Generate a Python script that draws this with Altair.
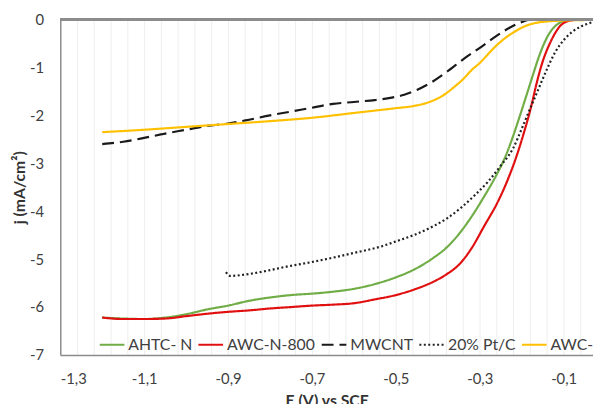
import altair as alt
import pandas as pd

# ---- data ----
series_names = ["AHTC- N", "AWC-N-800", "MWCNT", "20% Pt/C", "AWC-N"]
series_colors = ["#70AD47", "#E01010", "#1A1A1A", "#222222", "#FFC000"]
series_dash = [[1, 0], [1, 0], [12, 6], [2, 2.5], [1, 0]]

ahtc_x = [-1.20, -1.15, -1.10, -1.05, -1.00, -0.95, -0.90, -0.85, -0.80, -0.75, -0.70,
          -0.65, -0.60, -0.55, -0.50, -0.455, -0.41, -0.378, -0.35, -0.32, -0.29,
          -0.263, -0.236, -0.22, -0.204, -0.19, -0.173, -0.16, -0.149, -0.14, -0.125,
          -0.11, -0.095, -0.08, 0.0]
ahtc_y = [-6.22, -6.24, -6.25, -6.22, -6.15, -6.05, -5.97, -5.87, -5.80, -5.75, -5.72,
          -5.68, -5.62, -5.52, -5.38, -5.21, -4.97, -4.75, -4.48, -4.12, -3.70,
          -3.29, -2.80, -2.42, -2.00, -1.62, -1.15, -0.80, -0.55, -0.38, -0.18,
          -0.07, -0.02, 0.0, 0.0]

awc800_x = [-1.20, -1.15, -1.10, -1.05, -1.00, -0.95, -0.90, -0.85, -0.80, -0.75, -0.70,
            -0.65, -0.60, -0.55, -0.50, -0.455, -0.41, -0.378, -0.35, -0.32, -0.29,
            -0.255, -0.235, -0.215, -0.196, -0.177, -0.165, -0.149, -0.134, -0.12, -0.11,
            -0.095, -0.075, -0.06, 0.0]
awc800_y = [-6.22, -6.25, -6.25, -6.24, -6.19, -6.14, -6.10, -6.07, -6.03, -6.00, -5.97,
            -5.95, -5.92, -5.84, -5.75, -5.63, -5.47, -5.31, -5.12, -4.78, -4.32,
            -3.77, -3.38, -2.92, -2.40, -1.80, -1.35, -0.85, -0.52, -0.28, -0.15,
            -0.05, -0.01, 0.0, 0.0]

mwcnt_x = [-1.20, -1.15, -1.10, -1.05, -1.00, -0.95, -0.90, -0.85, -0.80, -0.75, -0.70,
           -0.65, -0.60, -0.55, -0.51, -0.48, -0.45, -0.415, -0.378, -0.338, -0.298,
           -0.26, -0.22, -0.196, -0.18, -0.10]
mwcnt_y = [-2.60, -2.55, -2.47, -2.38, -2.30, -2.22, -2.17, -2.09, -2.00, -1.92, -1.84,
           -1.76, -1.72, -1.68, -1.63, -1.57, -1.47, -1.31, -1.09, -0.82, -0.58,
           -0.34, -0.13, -0.04, 0.0, 0.0]

pt_x = [-0.905, -0.895, -0.85, -0.80, -0.768, -0.70, -0.65, -0.60, -0.533, -0.50, -0.455,
        -0.408, -0.378, -0.345, -0.31, -0.28, -0.25, -0.22, -0.20, -0.18, -0.16, -0.14,
        -0.12, -0.10, -0.08, -0.06, -0.04, -0.02, 0.0]
pt_y = [-5.27, -5.35, -5.31, -5.23, -5.17, -5.06, -4.97, -4.87, -4.73, -4.63, -4.49,
        -4.30, -4.15, -3.93, -3.65, -3.38, -3.05, -2.68, -2.28, -1.86, -1.45, -1.04,
        -0.68, -0.43, -0.26, -0.15, -0.08, -0.03, 0.0]

awcn_x = [-1.20, -1.10, -1.00, -0.90, -0.80, -0.70, -0.60, -0.55, -0.50, -0.455, -0.42,
          -0.385, -0.36, -0.338, -0.32, -0.298, -0.28, -0.26, -0.24, -0.22, -0.20, -0.18,
          -0.16, -0.14, -0.10, -0.05, 0.0]
awcn_y = [-2.35, -2.30, -2.24, -2.18, -2.12, -2.05, -1.95, -1.90, -1.85, -1.80, -1.72,
          -1.57, -1.40, -1.23, -1.06, -0.89, -0.72, -0.54, -0.39, -0.27, -0.17, -0.10,
          -0.06, -0.04, -0.02, -0.01, 0.0]

x_label_ticks = [-1.3, -1.1, -0.9, -0.7, -0.5, -0.3, -0.1]
y_ticks = [0, -1, -2, -3, -4, -5, -6, -7]
x_grid = [round(-1.3 + 0.04 * k, 2) for k in range(33)]

rows = []
for name, xs, ys in [
    (series_names[0], ahtc_x, ahtc_y),
    (series_names[1], awc800_x, awc800_y),
    (series_names[2], mwcnt_x, mwcnt_y),
    (series_names[3], pt_x, pt_y),
    (series_names[4], awcn_x, awcn_y),
]:
    for i, (a, b) in enumerate(zip(xs, ys)):
        rows.append({"series": name, "E": a, "j": b, "i": i})
df = pd.DataFrame(rows)

FONT = "Lato"
TXT = "#404040"

x_scale = alt.Scale(domain=[-1.3, -0.03], nice=False, zero=False)
y_scale = alt.Scale(domain=[-7, 0], nice=False)

label_expr = (
    "abs(round((datum.value+1.3)*5) - (datum.value+1.3)*5) < 0.01 ? "
    "replace(replace(format(datum.value, '.1f'), '.', ','), '\u2212', '-') : ''"
)

lines = alt.Chart(df).mark_line(strokeWidth=2.2, clip=True, interpolate="monotone").encode(
    x=alt.X("E:Q", scale=x_scale,
            axis=alt.Axis(values=x_grid, labelExpr=label_expr, title="E (V) vs SCE",
                          grid=True, gridColor="#EEEEEE", gridWidth=1,
                          tickSize=0, labelPadding=17, labelOverlap=False,
                          domainColor="#8C8C8C", domainWidth=1.5,
                          titlePadding=6)),
    y=alt.Y("j:Q", scale=y_scale,
            axis=alt.Axis(values=y_ticks, grid=False, tickSize=0, labelPadding=17,
                          labelExpr="replace(format(datum.value, 'd'), '\u2212', '-')",
                          title="j (mA/cm\u00b2)", titlePadding=2,
                          domainColor="#8C8C8C", domainWidth=1.5)),
    color=alt.Color("series:N",
                    scale=alt.Scale(domain=series_names, range=series_colors),
                    legend=alt.Legend(title=None, orient="none", legendX=39, legendY=316,
                                      direction="horizontal", symbolType="stroke",
                                      symbolSize=625, symbolStrokeWidth=2,
                                      labelOffset=3, columnPadding=2, padding=0,
                                      labelFontSize=16, labelFont=FONT, labelColor=TXT,
                                      labelLimit=200)),
    strokeDash=alt.StrokeDash("series:N",
                              scale=alt.Scale(domain=series_names, range=series_dash),
                              legend=alt.Legend(title=None, orient="none", legendX=39,
                                                legendY=316, direction="horizontal",
                                                symbolType="stroke", symbolSize=625)),
    order="i:Q",
)

top_rule = alt.Chart(df).mark_rule(color="#8C8C8C", strokeWidth=1.5).encode(
    y=alt.datum(0, scale=y_scale)
)

chart = alt.layer(lines, top_rule).properties(
    width=540, height=340,
    autosize=alt.AutoSizeParams(type="none"),
    padding={"left": 53, "top": 9, "right": 0, "bottom": 47},
).configure_view(stroke=None).configure_axis(
    labelFont=FONT, labelFontSize=15, labelColor=TXT,
    titleFont=FONT, titleFontSize=16, titleFontWeight="bold", titleColor="#333333",
).configure_legend(labelFont=FONT)

chart.save("out.html", embed_options={"renderer": "svg", "actions": False})
